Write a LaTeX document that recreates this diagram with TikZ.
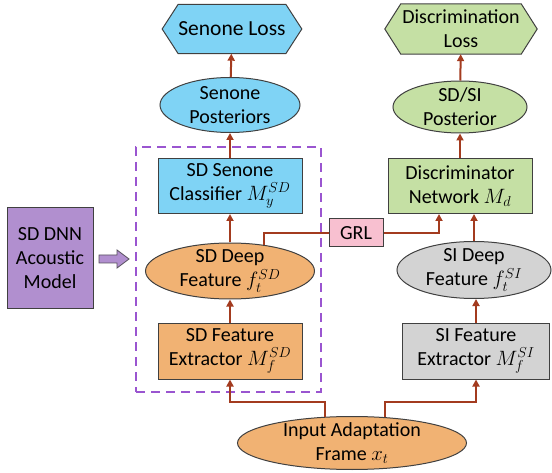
\documentclass[tikz,border=0pt]{standalone}
\usepackage{fontspec}
\setmainfont{Carlito}
\usetikzlibrary{shapes.geometric,arrows.meta,backgrounds,calc}
\definecolor{cblue}{HTML}{7FD3F5}
\definecolor{cgreen}{HTML}{C5E0A4}
\definecolor{corange}{HTML}{F1B273}
\definecolor{cgrey}{HTML}{D3D3D3}
\definecolor{cpink}{HTML}{F8C0D0}
\definecolor{cpurple}{HTML}{B18FCF}
\definecolor{cdash}{HTML}{9A55D0}
\definecolor{cconn}{HTML}{A33B1F}
\definecolor{cborder}{HTML}{404040}
\tikzset{
  every node/.style={font=\fontsize{20}{24}\selectfont, align=center, text=black},
  boxnode/.style={draw=cborder, line width=1pt, rectangle, inner sep=0pt, minimum width=144pt, minimum height=55pt},
  ellnode/.style={draw=cborder, line width=1pt, ellipse, inner sep=-3pt},
  hexnode/.style={rectangle, inner sep=0pt},
  hexdraw/.style={draw=cborder, line width=1pt},
  conn/.style={draw=cconn, line width=2pt},
  arr/.style={conn, -{Triangle[length=7pt, width=7pt]}},
}
\begin{document}
\begin{tikzpicture}[x=1pt,y=1pt]
\useasboundingbox (0,0) rectangle (552,472);
% losses
\node[hexnode, minimum width=104pt, minimum height=49pt, font=\fontsize{21.5}{26}\selectfont] (sloss) at (232,443) {Senone Loss};
\node[hexnode, minimum width=120pt, minimum height=50pt] (dloss) at (461,443) {Discrimination\\Loss};
\begin{scope}[on background layer]
\draw[hexdraw, fill=cblue] (sloss.north west) -- (sloss.north east) -- ([xshift=16pt]sloss.east) -- (sloss.south east) -- (sloss.south west) -- ([xshift=-16pt]sloss.west) -- cycle;
\draw[hexdraw, fill=cgreen] (dloss.north west) -- (dloss.north east) -- ([xshift=16pt]dloss.east) -- (dloss.south east) -- (dloss.south west) -- ([xshift=-16pt]dloss.west) -- cycle;
\end{scope}
% posteriors
\node[ellnode, fill=cblue, minimum width=140pt, minimum height=55pt] (spost) at (230,367) {Senone\\Posteriors};
\node[ellnode, fill=cgreen, minimum width=134pt, minimum height=52pt] (dpost) at (460,365) {SD/SI\\Posterior};
% dashed box
\node[draw=cdash, line width=2pt, dash pattern=on 9pt off 6pt, rectangle, minimum width=185pt, minimum height=245pt, inner sep=0pt] (dbox) at (228.5,202.5) {};
% classifiers
\node[boxnode, fill=cblue] (cls) at (230,286) {SD Senone\\Classifier $M_y^{SD}$};
\node[boxnode, fill=cgreen] (disc) at (460,286) {Discriminator\\Network $M_d$};
\node[boxnode, fill=cpink, minimum width=54pt, minimum height=28pt] (grl) at (356,239) {GRL};
% deep features
\node[ellnode, fill=corange, minimum width=169pt, minimum height=56pt] (sddeep) at (230,201) {SD Deep\\Feature $f_t^{SD}$};
\node[ellnode, fill=cgrey, minimum width=154pt, minimum height=57pt] (sideep) at (474,202) {SI Deep\\Feature $f_t^{SI}$};
% feature extractors
\node[boxnode, fill=corange, minimum height=56pt] (sdfe) at (230,121) {SD Feature\\Extractor $M_f^{SD}$};
\node[boxnode, fill=cgrey, minimum width=147pt, minimum height=56pt] (sife) at (476,121) {SI Feature\\Extractor $M_f^{SI}$};
% input
\node[ellnode, fill=corange, minimum width=229pt, minimum height=53pt] (input) at (352,29) {Input Adaptation\\Frame $x_t$};
% acoustic model
\node[boxnode, fill=cpurple, minimum width=86pt, minimum height=100pt] (am) at (50,214) {SD DNN\\Acoustic\\Model};
% block arrow
\draw[draw=cborder!80!cpurple, line width=0.8pt, fill=cpurple] (99,209) -- (117,209) -- (117,204) -- (129,213) -- (117,222) -- (117,217) -- (99,217) -- cycle;
% connectors
\draw[arr] (spost) -- (sloss);
\draw[arr] (dpost) -- (dloss);
\draw[arr] (cls) -- (spost);
\draw[arr] (disc) -- (dpost);
\draw[arr] (sddeep) -- (cls);
\draw[arr] (sdfe) -- (sddeep);
\draw[arr] (sife.north) -- (sideep.south -| sife.north);
\draw[arr] (sideep.north) -- (sideep.north |- disc.south);
\draw[conn] (sddeep.38) |- (grl.west);
\draw[arr] (grl.east) -| ([xshift=-21pt]disc.south);
\draw[arr] (input.136) -- ++(0,15) -| (sdfe.south);
\draw[arr] (input.38) -- ++(0,15) -| (sife.south);
\end{tikzpicture}
\end{document}
